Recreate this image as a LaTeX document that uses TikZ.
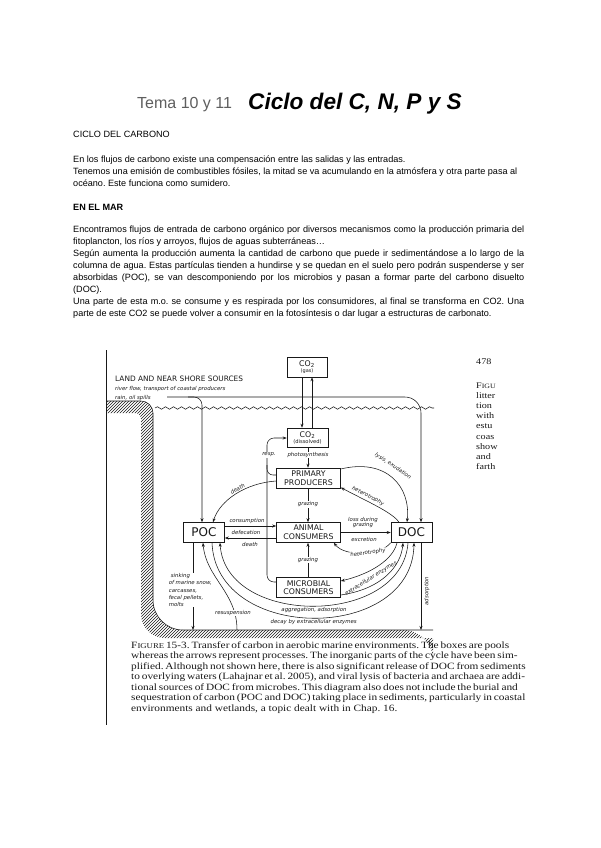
\documentclass[tikz,border=0pt]{standalone}
\usepackage{fontspec}
\setmainfont{Liberation Sans}
\newfontfamily\figfont{DejaVu Sans}
\newfontfamily\bookfont[FakeStretch=1.18]{Liberation Serif}
\usetikzlibrary{arrows.meta,decorations.pathmorphing,patterns}
\definecolor{ink}{RGB}{25,25,25}
\definecolor{temagray}{RGB}{95,95,95}
\newcommand{\figit}{\figfont\itshape\fontsize{5.4}{6.2}\selectfont}
\newcommand{\jline}[1]{\makebox[451pt][s]{#1}}
\newcommand{\capline}[1]{\makebox[374pt][s]{#1}}
\tikzset{
  body/.style={anchor=base west, inner sep=0pt, font=\fontsize{9.1}{11}\selectfont},
  capl/.style={anchor=base west, inner sep=0pt, text=ink, font=\bookfont\fontsize{9.6}{10.5}\selectfont},
  side/.style={anchor=base west, inner sep=0pt, text=ink, font=\bookfont\fontsize{8.6}{10}\selectfont},
  pool/.style={draw=ink, line width=0.6pt, minimum width=64pt, minimum height=20pt,
               inner sep=1pt, align=center, text=ink, font=\figfont\fontsize{7.8}{8.6}\selectfont},
  bigpool/.style={pool, minimum width=41pt, font=\figfont\fontsize{12}{13}\selectfont},
  proc/.style={inner sep=0.6pt, text=ink, font=\figit},
  procw/.style={proc, fill=white},
  ln/.style={draw=ink, line width=0.55pt},
  flw/.style={ln, -{Stealth[length=4pt,width=3pt]}},
  flwr/.style={ln, {Stealth[length=4pt,width=3pt]}-},
}

\begin{document}
\frenchspacing
\begin{tikzpicture}[x=1pt,y=-1pt]
  \useasboundingbox (0,0) rectangle (600,848);
  \fill[white] (0,0) rectangle (600,848);

  % page heading and text
  \node[body, text=temagray, font=\fontsize{16}{18}\selectfont] (tema) at (137,109) {Tema 10 y 11};
  \node[body, font=\fontsize{22.6}{26}\selectfont\bfseries\itshape] (titulo) at (248,110) {Ciclo del C, N, P y S};

  \node[body] (hcarb) at (73,137) {CICLO DEL CARBONO};
  \node[body] (p1a) at (73,162) {En los flujos de carbono existe una compensación entre las salidas y las entradas.};
  \node[body] (p1b) at (73,174) {Tenemos una emisión de combustibles fósiles, la mitad se va acumulando en la atmósfera y otra parte pasa al};
  \node[body] (p1c) at (73,186) {océano. Este funciona como sumidero.};

  \node[body, font=\fontsize{9.1}{11}\selectfont\bfseries] (hmar) at (73,210) {EN EL MAR};
  \node[body] (p2a) at (73,232) {\jline{Encontramos flujos de entrada de carbono orgánico por diversos mecanismos como la producción primaria del}};
  \node[body] (p2b) at (73,244) {fitoplancton, los ríos y arroyos, flujos de aguas subterráneas…};
  \node[body] (p2c) at (73,256) {\jline{Según aumenta la producción aumenta la cantidad de carbono que puede ir sedimentándose a lo largo de la}};
  \node[body] (p2d) at (73,268) {\jline{columna de agua. Estas partículas tienden a hundirse y se quedan en el suelo pero podrán suspenderse y ser}};
  \node[body] (p2e) at (73,280) {\jline{absorbidas (POC), se van descomponiendo por los microbios y pasan a formar parte del carbono disuelto}};
  \node[body] (p2f) at (73,292) {(DOC).};
  \node[body] (p2g) at (73,304) {\jline{Una parte de esta m.o. se consume y es respirada por los consumidores, al final se transforma en CO2. Una}};
  \node[body] (p2h) at (73,316) {parte de este CO2 se puede volver a consumir en la fotosíntesis o dar lugar a estructuras de carbonato.};

  % scanned book page
  \draw[ln, line width=0.8pt] (106,350) -- (106,725);
  \node[side] (pgno) at (476,364) {478};
  \node[side] (s1) at (476,388) {F{\fontsize{6.6}{8}\selectfont IGU}};
  \node[side] (s2) at (476,398.2) {litter};
  \node[side] (s3) at (476,408.4) {tion};
  \node[side] (s4) at (476,418.6) {with};
  \node[side] (s5) at (476,428.8) {estu};
  \node[side] (s6) at (476,439) {coas};
  \node[side] (s7) at (476,449.2) {show};
  \node[side] (s8) at (476,459.4) {and};
  \node[side] (s9) at (476,469.6) {farth};

  % shore and sea
  \fill[pattern=north east lines, pattern color=ink] [rounded corners=12pt] (107,401) -- (153,401)
    [rounded corners=30pt] -- (153,630) -- (433,630) [sharp corners] -- (433,638)
    [rounded corners=24pt] -- (141,638) [rounded corners=6pt] -- (141,413) [sharp corners] -- (107,413) -- cycle;
  \draw[ln] [rounded corners=12pt] (107,401) -- (153,401) [rounded corners=30pt] -- (153,630) -- (433,630);
  \draw[ln, decorate, decoration={snake, amplitude=1.3pt, segment length=8pt}] (155,408) -- (434,408);

  \node[anchor=base west, inner sep=0pt, text=ink, font=\figfont\fontsize{7.4}{8}\selectfont] (landhd) at (115,381) {LAND AND NEAR SHORE SOURCES};
  \node[anchor=base west, inner sep=0pt, text=ink, font=\figit] (river) at (115,390) {river flow, transport of coastal producers};
  \node[anchor=base west, inner sep=0pt, text=ink, font=\figit] (rain) at (115,399) {rain, oil spills};

  % pools
  \node[pool, minimum width=40pt] (co2g) at (307,367) {CO\textsubscript{2}\\[-2.5pt]{\fontsize{5}{5}\selectfont (gas)}};
  \node[pool, minimum width=41pt, minimum height=19pt] (co2d) at (307.5,437.5) {CO\textsubscript{2}\\[-2.5pt]{\fontsize{5.2}{5}\selectfont (dissolved)}};
  \node[pool] (prim) at (308.5,478) {PRIMARY\\PRODUCERS};
  \node[pool] (anim) at (308.5,532.5) {ANIMAL\\CONSUMERS};
  \node[pool] (micr) at (308.5,587.5) {MICROBIAL\\CONSUMERS};
  \node[bigpool] (poc) at (204,532.5) {POC};
  \node[bigpool] (doc) at (411.5,532.5) {DOC};

  \coordinate (src) at (167,397);
  \coordinate (seda) at (237,630);
  \coordinate (sedb) at (193,630);
  \coordinate (sedc) at (421,630);

  % inputs from land
  \draw[flw, rounded corners=16pt] (src) -- (421,397) -- (doc.north -| 421,0);
  \draw[flw, rounded corners=8pt] (188,397) -- (202,397) -- (poc.north -| 202,0);

  % gas exchange
  \draw[flw] (302,0 |- co2g.south) -- (302,0 |- co2d.north);
  \draw[flw] (312,0 |- co2d.north) -- (312,0 |- co2g.south);

  % respiration and photosynthesis
  \draw[flw, rounded corners=7pt] (micr.west |- 0,582) -- (267,582) -- (267,438) -- (co2d.west |- 0,438);
  \draw[ln, rounded corners=6pt] (prim.west |- 0,475) -- (267,475) -- (267,465);
  \draw[flw] (308,0 |- co2d.south) -- (308,0 |- prim.north);
  \node[procw] (resp) at (269,455) {resp.};
  \node[procw] (phot) at (308,455) {photosynthesis};

  % grazing
  \draw[flw] (308,0 |- prim.south) -- (308,0 |- anim.north);
  \draw[flw] (308,0 |- micr.north) -- (308,0 |- anim.south);
  \node[procw] (graz1) at (308,504.5) {grazing};
  \node[procw] (graz2) at (308,560) {grazing};

  % POC and animals
  \draw[flw] (poc.east |- 0,526) -- (anim.west |- 0,526);
  \draw[flw] (anim.west |- 0,538) -- (poc.east |- 0,538);
  \node[proc] (cons) at (247,521) {consumption};
  \node[proc] (defec) at (246,532.5) {defecation};
  \node[proc] (dth1) at (250,544.5) {death};
  \draw[flw] (prim.west |- 0,481) .. controls (246,483) and (220,500) .. (poc.north -| 213,0)
    node[proc, pos=0.45, sloped, above=0.5pt] (dth2) {death};

  % producers and DOC
  \draw[flw] (prim.east |- 0,469) .. controls (386,458) and (411,486) .. (doc.north -| 407,0);
  \draw[flwr] (prim.east |- 0,487.5) .. controls (366,501) and (392,512) .. (doc.north -| 399,0);
  \node[proc, rotate=-34] (lysis) at (393,466) {lysis, exudation};
  \node[proc, rotate=-28] (het1) at (368,496) {heterotrophy};

  % animals and DOC
  \draw[flw] (anim.east) -- (doc.west);
  \node[proc, align=center] (loss) at (363,523) {loss during\\[-1.2pt]grazing};
  \node[proc] (excr) at (364,539) {excretion};
  \draw[flwr] (anim.south east) ++(-7pt,0) .. controls (345,557) and (380,556) .. (doc.south west);
  \node[procw, rotate=8] (het2) at (368,553) {heterotrophy};

  % microbes and DOC
  \draw[flwr] (micr.east |- 0,581) .. controls (370,574) and (393,560) .. (doc.south -| 397,0);
  \draw[flw] (micr.east |- 0,595) .. controls (382,589) and (401,566) .. (doc.south -| 403,0);
  \node[proc, rotate=32] (extra) at (371,578.5) {extracellular enzymes};

  % DOC and POC exchange
  \draw[flwr] (poc.south -| 220,0) .. controls (226,627) and (402,627) .. (doc.south -| 408,0)
    node[proc, pos=0.5, below=0.4pt] (aggr) {aggregation, adsorption};
  \draw[flw] (poc.south -| 212,0) .. controls (216,643) and (412,643) .. (doc.south -| 414,0)
    node[proc, pos=0.5, below=0.4pt] (decay) {decay by extracellular enzymes};

  % sediment exchange
  \draw[flw] (seda) .. controls (237,592) and (206,578) .. (poc.south -| 203,0);
  \draw[flw] (poc.south -| 193,0) -- (sedb);
  \draw[flw] (doc.south -| 421,0) -- (sedc);
  \node[procw] (resus) at (233,613) {resuspension};
  \node[procw, align=left, anchor=west, font=\figfont\itshape\fontsize{5.4}{7.2}\selectfont] (sink) at (168,590)
    {\hspace*{2pt}sinking\\of marine snow,\\carcasses,\\fecal pellets,\\molts};
  \node[proc, rotate=90] (ads) at (427,591) {adsorption};

  % caption
  \node[capl] (cap1) at (131,648) {\capline{F{\fontsize{7.4}{8}\selectfont IGURE} 15-3. Transfer of carbon in aerobic marine environments. The boxes are pools}};
  \node[capl] (cap2) at (131,658.5) {\capline{whereas the arrows represent processes. The inorganic parts of the cycle have been sim-}};
  \node[capl] (cap3) at (131,669) {\capline{plified. Although not shown here, there is also significant release of DOC from sediments}};
  \node[capl] (cap4) at (131,679.5) {\capline{to overlying waters (Lahajnar et al. 2005), and viral lysis of bacteria and archaea are addi-}};
  \node[capl] (cap5) at (131,690) {\capline{tional sources of DOC from microbes. This diagram also does not include the burial and}};
  \node[capl] (cap6) at (131,700.5) {\capline{sequestration of carbon (POC and DOC) taking place in sediments, particularly in coastal}};
  \node[capl] (cap7) at (131,711) {environments and wetlands, a topic dealt with in Chap. 16.};
\end{tikzpicture}
\end{document}
